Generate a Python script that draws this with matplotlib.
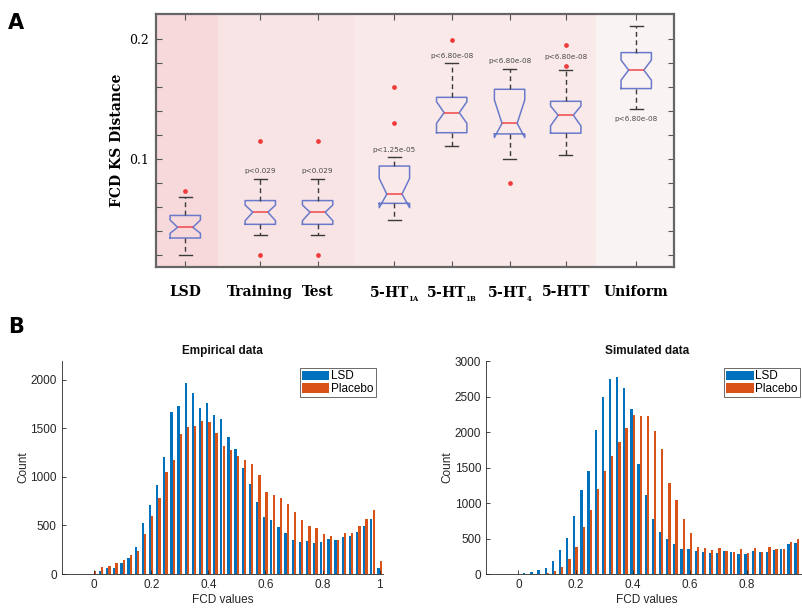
import matplotlib.pyplot as plt
import numpy as np

plt.rcParams['mathtext.fontset'] = 'dejavuserif'

# ---------------- panel A: FCD KS distances (box statistics)
groups = ['LSD', 'Training', 'Test', '5-HT$_{_{\\mathbf{1A}}}$', '5-HT$_{_{\\mathbf{1B}}}$',
          '5-HT$_{_{\\mathbf{4}}}$', '5-HTT', 'Uniform']
q1 = [0.0342, 0.0456, 0.0456, 0.0631, 0.1220, 0.1210, 0.1216, 0.1588]
med = [0.0431, 0.0557, 0.0557, 0.0708, 0.1387, 0.1298, 0.1366, 0.1742]
q3 = [0.0530, 0.0654, 0.0654, 0.0942, 0.1515, 0.1582, 0.1482, 0.1888]
whislo = [0.0204, 0.0365, 0.0365, 0.0493, 0.1108, 0.1003, 0.1031, 0.1417]
whishi = [0.0686, 0.0834, 0.0834, 0.1020, 0.1802, 0.1755, 0.1742, 0.2113]
cilo = [0.0381, 0.0486, 0.0486, 0.0595, 0.1298, 0.1180, 0.1277, 0.1658]
cihi = [0.0492, 0.0617, 0.0617, 0.0839, 0.1479, 0.1493, 0.1443, 0.1826]
fliers = [[0.0736], [0.1150, 0.0203], [0.1150, 0.0203], [0.1600, 0.1303],
          [0.1992], [0.0803], [0.1950, 0.1780], []]
pvals = ['', 'p<0.029', 'p<0.029', 'p<1.25e-05', 'p<6.80e-08',
         'p<6.80e-08', 'p<6.80e-08', 'p<6.80e-08']

# layout of panel A
pos = [1, 2.31, 3.31, 4.65, 5.65, 6.66, 7.64, 8.87]
shade = [(0.49, 1.58, '#f7d9dc'), (1.58, 3.95, '#f9e4e5'),
         (3.95, 8.16, '#f9e9e9'), (8.16, 9.6, '#faf3f3')]
p_y = [0, 0.0903, 0.0903, 0.1075, 0.1860, 0.1819, 0.1850, 0.1338]

# ---------------- panel B: FCD histograms, bins 0:0.025:1
fcd_bins = np.arange(41) * 0.025
emp_lsd = [0, 35, 62, 60, 117, 166, 276, 524, 714, 914, 1207, 1669, 1724, 1965,
           1862, 1710, 1762, 1631, 1593, 1407, 1290, 1093, 924, 738, 586, 559,
           483, 417, 345, 334, 338, 321, 334, 362, 345, 376, 386, 428, 490, 565, 62]
emp_pla = [28, 76, 86, 117, 148, 197, 238, 407, 600, 779, 1052, 1172, 1438, 1510,
           1524, 1569, 1565, 1448, 1321, 1276, 1214, 1172, 1128, 1017, 848, 817,
           783, 717, 634, 552, 493, 472, 407, 390, 352, 417, 421, 490, 565, 655, 131]
sim_lsd = [3, 8, 23, 52, 84, 178, 333, 506, 820, 1177, 1444, 2030, 2500, 2745,
           2770, 2620, 2320, 1552, 1113, 778, 594, 495, 429, 349, 349, 325, 316,
           302, 292, 321, 307, 283, 288, 330, 311, 307, 344, 349, 429, 434, 60]
sim_pla = [0, 0, 2, 5, 10, 38, 98, 216, 380, 661, 900, 1195, 1444, 1664, 1856,
           2060, 2240, 2220, 2220, 2020, 1755, 1288, 1047, 774, 580, 382, 363,
           335, 363, 325, 307, 358, 302, 363, 311, 382, 358, 358, 453, 490, 110]

fig = plt.figure(figsize=(8.03, 6.08), dpi=100)

# ---- A
ax = fig.add_axes([0.1943, 0.5614, 0.6451, 0.4156])
for x0, x1, c in shade:
    ax.axvspan(x0, x1, color=c, lw=0, zorder=0)

stats = []
for i in range(len(groups)):
    stats.append(dict(med=med[i], q1=q1[i], q3=q3[i], whislo=whislo[i],
                      whishi=whishi[i], cilo=cilo[i], cihi=cihi[i],
                      fliers=np.array(fliers[i])))

ax.bxp(stats, positions=pos, widths=0.53, capwidths=0.22, shownotches=True,
       manage_ticks=False,
       boxprops=dict(color='#6a7acb', lw=1.1),
       medianprops=dict(color='#f0474a', lw=1.1),
       whiskerprops=dict(color='#3a3a3a', lw=1.0, ls=(0, (3.5, 2.5))),
       capprops=dict(color='#3a3a3a', lw=1.0),
       flierprops=dict(marker='o', markersize=2.4, markerfacecolor='#f03a3a',
                       markeredgecolor='#f03a3a'))

for i in range(len(groups)):
    if pvals[i]:
        ax.text(pos[i], p_y[i], pvals[i], ha='center', va='center',
                fontsize=5.2, color='#4a4a4a')

ax.set_xlim(0.49, 9.53)
ax.set_ylim(0.0103, 0.221)
ax.set_xticks(pos)
ax.set_xticklabels(groups, fontfamily='DejaVu Serif', fontweight='bold', fontsize=10)
yt = np.arange(1, 11) * 0.02
ax.set_yticks(yt)
ax.set_yticklabels(['0.1' if abs(v - 0.1) < 1e-9 else '0.2' if abs(v - 0.2) < 1e-9 else ''
                    for v in yt], fontfamily='DejaVu Serif', fontsize=9)
ax.tick_params(direction='in', length=4, width=0.8, color='#555555',
               top=True, right=True, pad=13, axis='x')
ax.tick_params(direction='in', length=4, width=0.8, color='#555555',
               right=True, pad=5, axis='y')
ax.set_ylabel('FCD KS Distance', fontfamily='DejaVu Serif', fontweight='bold',
              fontsize=10, labelpad=4)
for s in ax.spines.values():
    s.set_color('#666666')
    s.set_linewidth(1.6)

# ---- B
def hist_panel(rect, lsd, pla, title, ymax):
    a = fig.add_axes(rect)
    a.bar(fcd_bins - 0.0045, lsd, width=0.0080, color='#0072BD', label='LSD')
    a.bar(fcd_bins + 0.0037, pla, width=0.0080, color='#D95319', label='Placebo')
    a.set_xlim(-0.1135, 1.0115)
    a.set_ylim(0, ymax)
    a.set_xticks([0, 0.2, 0.4, 0.6, 0.8, 1])
    a.set_xticklabels(['0', '0.2', '0.4', '0.6', '0.8', '1'])
    a.set_yticks(np.arange(0, ymax + 1, 500))
    for s in ['top', 'right']:
        a.spines[s].set_visible(False)
    for s in ['left', 'bottom']:
        a.spines[s].set_color('#262626')
        a.spines[s].set_linewidth(0.6)
    a.tick_params(direction='in', length=3, width=0.6, color='#262626',
                  labelsize=8.5, labelcolor='#262626')
    a.set_xlabel('FCD values', fontsize=8.5, color='#262626', labelpad=2)
    a.set_ylabel('Count', fontsize=8.5, color='#262626', labelpad=1)
    a.set_title(title, fontsize=8.5, fontweight='bold', color='#111111', pad=5)
    lg = a.legend(loc='upper right', fontsize=8.5, frameon=True, fancybox=False,
                  handlelength=2.3, handleheight=0.9, handletextpad=0.15,
                  labelspacing=0.05, borderpad=0.2, borderaxespad=0.6)
    lg.get_frame().set_edgecolor('#262626')
    lg.get_frame().set_linewidth(0.6)
    return a


plt.rcParams['font.family'] = ['Liberation Sans', 'DejaVu Sans']
hist_panel([0.0768, 0.0559, 0.4002, 0.3503], emp_lsd, emp_pla, 'Empirical data', 2190)
hist_panel([0.6052, 0.0559, 0.4002, 0.3503], sim_lsd, sim_pla, 'Simulated data', 3000)

fig.text(0.010, 0.978, 'A', fontsize=15, fontweight='bold', va='top', family='DejaVu Sans')
fig.text(0.010, 0.478, 'B', fontsize=15, fontweight='bold', va='top', family='DejaVu Sans')

fig.savefig('out.png', dpi=100)
